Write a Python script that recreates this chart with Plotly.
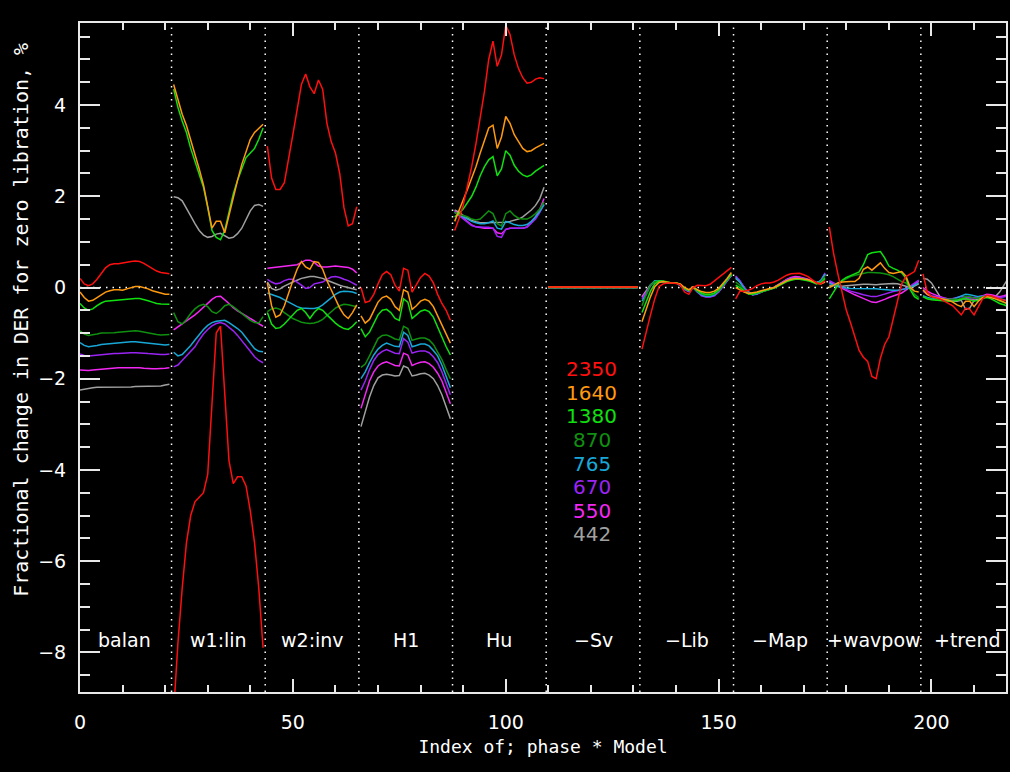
import plotly.graph_objects as go

# Segment names along the index axis (22 points each)
segments = ["balan", "w1:lin", "w2:inv", "H1", "Hu", "−Sv", "−Lib", "−Map", "+wavpow", "+trend"]
seg_len = 22

wavelengths = ["2350", "1640", "1380", "870", "765", "670", "550", "442"]
colors = ["#ff1010", "#ff9a10", "#10e010", "#109010", "#18a8d8", "#9a24f4", "#f428f4", "#a0a0a0"]

y_2350 = [
    0.2, 0.08, 0.04, 0.08, 0.18, 0.32, 0.43, 0.5, 0.52, 0.52, 0.54, 0.55, 0.57, 0.58, 0.57, 0.53, 0.47, 0.41, 0.36, 0.33, 0.31, 0.30,
    -9.3, -7.8, -6.6, -5.6, -5.0, -4.7, -4.6, -4.5, -4.1, -2.6, -1.0, -0.85, -2.3, -3.8, -4.3, -4.15, -4.15, -4.35, -4.9, -5.6, -6.6, -7.9,
    3.1, 2.4, 2.15, 2.15, 2.3, 2.8, 3.35, 3.9, 4.45, 4.68, 4.4, 4.25, 4.55, 4.35, 3.6, 3.2, 2.95, 2.5, 1.75, 1.35, 1.4, 1.77,
    0.0, -0.33, -0.3, -0.15, 0.08, 0.28, 0.35, 0.28, 0.05, -0.08, 0.42, 0.38, -0.1, 0.05, 0.22, 0.31, 0.25, 0.1, -0.15, -0.35, -0.5, -0.72,
    1.25, 1.5, 1.8, 2.2, 2.65, 3.15, 3.7, 4.3, 5.0, 5.4, 4.85, 5.1, 5.75, 5.55, 5.1, 4.8, 4.6, 4.48, 4.5, 4.57, 4.6, 4.58,
    0.01, 0.01, 0.01, 0.01, 0.01, 0.01, 0.01, 0.01, 0.01, 0.01, 0.01, 0.01, 0.01, 0.01, 0.01, 0.01, 0.01, 0.01, 0.01, 0.01, 0.01, 0.01,
    -1.35, -0.95, -0.6, -0.25, 0.02, 0.08, 0.1, 0.1, 0.09, 0.06, -0.1, -0.15, 0.0, 0.05, 0.04, 0.04, 0.07, 0.14, 0.22, 0.3, 0.37, 0.44,
    -0.25, -0.08, -0.08, -0.06, -0.02, 0.04, 0.08, 0.1, 0.1, 0.12, 0.16, 0.22, 0.27, 0.3, 0.31, 0.31, 0.28, 0.24, 0.17, 0.1, 0.08, 0.15,
    1.33, 0.75, 0.3, -0.1, -0.5, -0.78, -1.08, -1.38, -1.53, -1.62, -1.95, -2.0, -1.55, -1.25, -1.08, -0.68, -0.28, 0.08, 0.24, 0.3, 0.35, 0.6,
    0.3, -0.1, -0.2, -0.22, -0.25, -0.3, -0.35, -0.4, -0.5, -0.6, -0.45, -0.48, -0.6, -0.42, -0.25, -0.17, -0.18, -0.22, -0.25, -0.28, -0.31, -0.33,
]

y_1640 = [
    -0.1, -0.22, -0.3, -0.28, -0.22, -0.15, -0.1, -0.07, -0.05, -0.05, -0.06, -0.03, 0.0, 0.02, 0.02, 0.0, -0.03, -0.07, -0.1, -0.13, -0.15, -0.15,
    4.45, 4.1, 3.8, 3.55, 3.25, 2.9, 2.6, 2.25, 1.8, 1.3, 1.45, 1.45, 1.2, 1.6, 2.0, 2.35, 2.7, 3.0, 3.25, 3.4, 3.5, 3.58,
    0.1, -0.4, -0.65, -0.6, -0.4, -0.1, 0.15, 0.4, 0.57, 0.45, 0.4, 0.57, 0.55, 0.4, 0.15, -0.05, -0.25, -0.45, -0.6, -0.68, -0.55, -0.38,
    -0.62, -0.78, -0.7, -0.5, -0.32, -0.22, -0.19, -0.26, -0.42, -0.5, -0.05, -0.1, -0.48, -0.4, -0.3, -0.26, -0.3, -0.42, -0.62, -0.85, -1.05, -1.22,
    1.45, 1.7, 1.92, 2.15, 2.4, 2.65, 2.95, 3.25, 3.5, 3.56, 3.05, 3.3, 3.75, 3.6, 3.35, 3.2, 3.05, 2.98, 3.0, 3.06, 3.11, 3.16,
    0.01, 0.01, 0.01, 0.01, 0.01, 0.01, 0.01, 0.01, 0.01, 0.01, 0.01, 0.01, 0.01, 0.01, 0.01, 0.01, 0.01, 0.01, 0.01, 0.01, 0.01, 0.01,
    -0.75, -0.45, -0.2, 0.02, 0.11, 0.13, 0.11, 0.1, 0.1, 0.08, 0.0, -0.05, 0.02, -0.05, -0.09, -0.11, -0.11, -0.08, -0.02, 0.08, 0.2, 0.33,
    0.0, -0.05, -0.1, -0.13, -0.12, -0.1, -0.07, -0.05, -0.03, 0.0, 0.05, 0.1, 0.15, 0.18, 0.2, 0.2, 0.19, 0.17, 0.14, 0.1, 0.08, 0.12,
    0.0, 0.05, 0.1, 0.12, 0.13, 0.13, 0.13, 0.2, 0.4, 0.45, 0.38, 0.45, 0.54, 0.42, 0.33, 0.31, 0.33, 0.35, 0.25, 0.0, -0.08, -0.1,
    -0.05, -0.15, -0.2, -0.22, -0.24, -0.26, -0.28, -0.32, -0.38, -0.42, -0.3, -0.3, -0.42, -0.3, -0.22, -0.2, -0.22, -0.25, -0.28, -0.32, -0.36, -0.38,
]

y_1380 = [
    -0.35, -0.45, -0.5, -0.47, -0.4, -0.34, -0.3, -0.29, -0.28, -0.28, -0.27, -0.26, -0.25, -0.24, -0.24, -0.26, -0.29, -0.32, -0.35, -0.36, -0.37, -0.37,
    4.35, 3.95, 3.65, 3.4, 3.05, 2.75, 2.5, 2.2, 1.75, 1.25, 1.1, 1.05, 1.25, 1.65, 2.05, 2.35, 2.6, 2.85, 2.95, 3.05, 3.25, 3.5,
    -0.55, -0.8, -0.9, -0.88, -0.8, -0.7, -0.6, -0.5, -0.46, -0.55, -0.68, -0.55, -0.46, -0.5, -0.6, -0.7, -0.78, -0.85, -0.9, -0.92, -0.85, -0.75,
    -0.9, -1.08, -0.98, -0.78, -0.6, -0.5, -0.48, -0.55, -0.68, -0.72, -0.25, -0.32, -0.68, -0.6, -0.52, -0.49, -0.53, -0.65, -0.88, -1.1, -1.3, -1.48,
    1.55, 1.62, 1.72, 1.85, 2.0, 2.2, 2.45, 2.65, 2.8, 2.87, 2.45, 2.6, 3.0, 2.9, 2.68, 2.55, 2.47, 2.43, 2.47, 2.55, 2.62, 2.68,
    0.0, 0.0, 0.0, 0.0, 0.0, 0.0, 0.0, 0.0, 0.0, 0.0, 0.0, 0.0, 0.0, 0.0, 0.0, 0.0, 0.0, 0.0, 0.0, 0.0, 0.0, 0.0,
    -0.55, -0.3, -0.08, 0.08, 0.14, 0.14, 0.12, 0.1, 0.1, 0.07, -0.02, -0.06, 0.0, -0.07, -0.12, -0.15, -0.15, -0.12, -0.05, 0.06, 0.18, 0.3,
    0.05, 0.0, -0.08, -0.14, -0.14, -0.12, -0.09, -0.06, -0.04, -0.01, 0.03, 0.08, 0.13, 0.16, 0.18, 0.18, 0.17, 0.15, 0.12, 0.08, 0.1, 0.2,
    -0.25, -0.1, 0.05, 0.16, 0.22, 0.26, 0.3, 0.34, 0.5, 0.72, 0.76, 0.77, 0.79, 0.65, 0.47, 0.42, 0.38, 0.32, 0.2, -0.05, -0.2, -0.26,
    -0.2, -0.25, -0.27, -0.28, -0.28, -0.29, -0.3, -0.3, -0.28, -0.25, -0.24, -0.27, -0.3, -0.28, -0.24, -0.22, -0.25, -0.3, -0.35, -0.38, -0.42, -0.45,
]

y_870 = [
    -0.95, -1.02, -1.05, -1.04, -1.02, -1.0, -1.0, -1.0, -0.99, -0.98, -0.97, -0.96, -0.95, -0.95, -0.96, -0.98, -1.0, -1.02, -1.03, -1.04, -1.04, -1.03,
    -0.55, -0.75, -0.8, -0.7, -0.57, -0.47, -0.4, -0.37, -0.42, -0.53, -0.57, -0.5, -0.4, -0.37, -0.42, -0.5, -0.58, -0.65, -0.72, -0.77, -0.78, -0.64,
    -0.53, -0.47, -0.45, -0.48, -0.55, -0.62, -0.68, -0.72, -0.76, -0.78, -0.79, -0.78, -0.75, -0.7, -0.62, -0.53, -0.45, -0.4, -0.37, -0.38, -0.4, -0.42,
    -1.75, -1.68, -1.5, -1.3, -1.12, -1.05, -1.04, -1.08, -1.13, -1.15, -0.85, -0.9, -1.16, -1.13, -1.11, -1.11, -1.15, -1.25, -1.4, -1.58, -1.8, -2.0,
    1.65, 1.6, 1.58, 1.55, 1.5, 1.48, 1.5, 1.58, 1.68, 1.62, 1.4, 1.35, 1.62, 1.68, 1.58, 1.52, 1.5, 1.5, 1.55, 1.62, 1.72, 1.88,
    0.0, 0.0, 0.0, 0.0, 0.0, 0.0, 0.0, 0.0, 0.0, 0.0, 0.0, 0.0, 0.0, 0.0, 0.0, 0.0, 0.0, 0.0, 0.0, 0.0, 0.0, 0.0,
    -0.4, -0.15, 0.05, 0.13, 0.14, 0.12, 0.11, 0.1, 0.1, 0.06, -0.02, -0.07, 0.0, -0.08, -0.14, -0.17, -0.17, -0.14, -0.07, 0.05, 0.16, 0.28,
    0.12, 0.05, -0.05, -0.14, -0.15, -0.13, -0.1, -0.07, -0.04, -0.01, 0.04, 0.09, 0.14, 0.17, 0.19, 0.19, 0.18, 0.15, 0.12, 0.09, 0.12, 0.25,
    0.0, 0.05, 0.1, 0.15, 0.2, 0.24, 0.27, 0.29, 0.31, 0.33, 0.33, 0.33, 0.32, 0.3, 0.28, 0.24, 0.18, 0.13, 0.1, 0.0, -0.15, -0.22,
    -0.2, -0.24, -0.26, -0.27, -0.27, -0.26, -0.26, -0.27, -0.26, -0.24, -0.2, -0.2, -0.24, -0.23, -0.2, -0.18, -0.2, -0.25, -0.3, -0.33, -0.37, -0.4,
]

y_765 = [
    -1.21, -1.27, -1.3, -1.29, -1.27, -1.25, -1.24, -1.23, -1.22, -1.22, -1.21, -1.2, -1.19, -1.19, -1.2, -1.21, -1.23, -1.24, -1.25, -1.26, -1.26, -1.25,
    -1.42, -1.5, -1.47, -1.38, -1.27, -1.15, -1.03, -0.92, -0.83, -0.77, -0.74, -0.73, -0.72, -0.77, -0.83, -0.9, -0.98, -1.1, -1.23, -1.34, -1.4, -1.41,
    -0.12, -0.15, -0.18, -0.22, -0.27, -0.32, -0.37, -0.42, -0.45, -0.46, -0.46, -0.46, -0.44, -0.38, -0.3, -0.22, -0.15, -0.1, -0.08, -0.09, -0.1, -0.13,
    -2.0, -1.85, -1.65, -1.48, -1.35, -1.27, -1.22, -1.25, -1.29, -1.3, -0.98, -1.05, -1.3, -1.27, -1.24, -1.24, -1.28, -1.38, -1.5, -1.7, -1.95, -2.2,
    1.65, 1.6, 1.55, 1.5, 1.45, 1.42, 1.4, 1.4, 1.42, 1.46, 1.3, 1.28, 1.45, 1.42, 1.38, 1.36, 1.36, 1.38, 1.45, 1.55, 1.67, 1.82,
    0.0, 0.0, 0.0, 0.0, 0.0, 0.0, 0.0, 0.0, 0.0, 0.0, 0.0, 0.0, 0.0, 0.0, 0.0, 0.0, 0.0, 0.0, 0.0, 0.0, 0.0, 0.0,
    -0.3, -0.15, 0.05, 0.15, 0.15, 0.12, 0.1, 0.1, 0.1, 0.05, -0.03, -0.08, 0.0, -0.09, -0.16, -0.19, -0.19, -0.16, -0.08, 0.04, 0.15, 0.27,
    0.22, 0.12, -0.02, -0.13, -0.16, -0.14, -0.1, -0.07, -0.04, -0.01, 0.05, 0.1, 0.15, 0.19, 0.2, 0.2, 0.19, 0.16, 0.13, 0.1, 0.15, 0.3,
    0.1, 0.05, 0.02, 0.0, -0.01, -0.02, -0.02, -0.02, -0.02, -0.02, -0.03, -0.03, -0.04, -0.05, -0.05, -0.06, -0.06, -0.05, -0.03, 0.0, 0.05, 0.1,
    -0.18, -0.22, -0.24, -0.25, -0.26, -0.27, -0.28, -0.26, -0.22, -0.18, -0.15, -0.16, -0.18, -0.2, -0.2, -0.19, -0.2, -0.22, -0.25, -0.27, -0.3, -0.32,
]

y_670 = [
    -1.46, -1.49, -1.5, -1.49, -1.48, -1.47, -1.46, -1.46, -1.45, -1.45, -1.44, -1.44, -1.43, -1.43, -1.43, -1.44, -1.45, -1.46, -1.47, -1.47, -1.47, -1.46,
    -1.74, -1.7, -1.6, -1.5, -1.42, -1.3, -1.15, -1.02, -0.92, -0.84, -0.79, -0.77, -0.8, -0.87, -0.95, -1.05, -1.16, -1.28, -1.4, -1.52, -1.6, -1.65,
    0.18, 0.12, 0.08, 0.1, 0.15, 0.18, 0.18, 0.12, 0.05, -0.02, 0.0, 0.08, 0.1, 0.12, 0.18, 0.23, 0.24, 0.22, 0.18, 0.15, 0.1, 0.05,
    -2.25, -2.05, -1.8, -1.6, -1.47, -1.4, -1.36, -1.4, -1.44, -1.45, -1.12, -1.2, -1.44, -1.41, -1.39, -1.39, -1.43, -1.52, -1.65, -1.85, -2.1, -2.35,
    1.65, 1.58, 1.5, 1.43, 1.36, 1.33, 1.32, 1.32, 1.32, 1.3, 1.12, 1.1, 1.28, 1.3, 1.3, 1.3, 1.3, 1.32, 1.4, 1.5, 1.65, 1.82,
    0.0, 0.0, 0.0, 0.0, 0.0, 0.0, 0.0, 0.0, 0.0, 0.0, 0.0, 0.0, 0.0, 0.0, 0.0, 0.0, 0.0, 0.0, 0.0, 0.0, 0.0, 0.0,
    -0.25, -0.12, 0.04, 0.14, 0.15, 0.12, 0.1, 0.1, 0.1, 0.05, -0.04, -0.09, 0.0, -0.1, -0.18, -0.21, -0.21, -0.18, -0.1, 0.02, 0.13, 0.26,
    0.25, 0.15, 0.0, -0.12, -0.16, -0.15, -0.1, -0.07, -0.04, 0.0, 0.05, 0.11, 0.16, 0.2, 0.21, 0.21, 0.2, 0.17, 0.13, 0.1, 0.15, 0.32,
    0.15, 0.1, 0.05, 0.0, -0.04, -0.08, -0.1, -0.13, -0.16, -0.18, -0.2, -0.2, -0.17, -0.14, -0.11, -0.09, -0.07, -0.05, -0.02, 0.03, 0.1, 0.16,
    -0.08, -0.15, -0.18, -0.2, -0.22, -0.24, -0.25, -0.24, -0.22, -0.2, -0.22, -0.22, -0.22, -0.2, -0.18, -0.18, -0.2, -0.22, -0.22, -0.2, -0.18, -0.17,
]

y_550 = [
    -1.81, -1.82, -1.82, -1.81, -1.8, -1.79, -1.78, -1.77, -1.77, -1.76, -1.76, -1.76, -1.75, -1.75, -1.76, -1.77, -1.78, -1.78, -1.78, -1.78, -1.77, -1.76,
    -0.93, -0.87, -0.8, -0.73, -0.67, -0.6, -0.52, -0.43, -0.34, -0.26, -0.2, -0.19, -0.27, -0.36, -0.44, -0.51, -0.56, -0.62, -0.68, -0.74, -0.8, -0.85,
    0.42, 0.43, 0.45, 0.46, 0.47, 0.48, 0.48, 0.5, 0.55, 0.6, 0.6, 0.55, 0.47, 0.45, 0.45, 0.46, 0.47, 0.46, 0.45, 0.44, 0.4, 0.32,
    -2.65, -2.35, -2.05, -1.85, -1.72, -1.66, -1.63, -1.67, -1.71, -1.72, -1.44, -1.48, -1.71, -1.67, -1.64, -1.63, -1.67, -1.75, -1.88, -2.05, -2.3, -2.55,
    1.68, 1.6, 1.52, 1.44, 1.37, 1.33, 1.31, 1.3, 1.3, 1.3, 1.2, 1.18, 1.27, 1.3, 1.3, 1.3, 1.3, 1.33, 1.42, 1.55, 1.72, 1.95,
    0.0, 0.0, 0.0, 0.0, 0.0, 0.0, 0.0, 0.0, 0.0, 0.0, 0.0, 0.0, 0.0, 0.0, 0.0, 0.0, 0.0, 0.0, 0.0, 0.0, 0.0, 0.0,
    -0.22, -0.1, 0.05, 0.14, 0.15, 0.12, 0.1, 0.1, 0.1, 0.05, -0.04, -0.09, 0.0, -0.1, -0.17, -0.2, -0.2, -0.17, -0.1, 0.02, 0.14, 0.27,
    0.24, 0.14, 0.0, -0.12, -0.16, -0.14, -0.1, -0.07, -0.04, 0.0, 0.06, 0.12, 0.18, 0.22, 0.24, 0.23, 0.21, 0.18, 0.14, 0.1, 0.14, 0.3,
    0.12, 0.08, 0.03, -0.02, -0.07, -0.12, -0.16, -0.2, -0.24, -0.28, -0.32, -0.33, -0.3, -0.26, -0.22, -0.19, -0.16, -0.12, -0.06, 0.0, 0.07, 0.14,
    0.0, -0.08, -0.13, -0.17, -0.2, -0.23, -0.26, -0.28, -0.28, -0.25, -0.25, -0.26, -0.26, -0.22, -0.18, -0.15, -0.16, -0.18, -0.2, -0.18, -0.15, -0.13,
]

y_442 = [
    -2.25, -2.23, -2.21, -2.2, -2.19, -2.19, -2.19, -2.19, -2.19, -2.18, -2.18, -2.18, -2.18, -2.17, -2.17, -2.17, -2.17, -2.17, -2.16, -2.16, -2.14, -2.12,
    1.99, 1.97, 1.9, 1.75, 1.57, 1.4, 1.25, 1.15, 1.1, 1.12, 1.17, 1.19, 1.13, 1.08, 1.1, 1.18, 1.3, 1.48, 1.68, 1.8, 1.82, 1.78,
    0.12, -0.02, -0.06, -0.03, 0.03, 0.08, 0.12, 0.16, 0.2, 0.22, 0.24, 0.24, 0.22, 0.2, 0.16, 0.12, 0.08, 0.05, 0.02, 0.0, -0.03, -0.05,
    -3.05, -2.7, -2.4, -2.15, -1.98, -1.92, -1.9, -1.92, -1.94, -1.93, -1.72, -1.76, -1.94, -1.92, -1.89, -1.88, -1.92, -2.0, -2.15, -2.35, -2.6, -2.88,
    1.7, 1.65, 1.58, 1.52, 1.47, 1.44, 1.42, 1.42, 1.42, 1.42, 1.42, 1.42, 1.43, 1.45, 1.47, 1.5, 1.55, 1.62, 1.7, 1.8, 1.95, 2.2,
    0.0, 0.0, 0.0, 0.0, 0.0, 0.0, 0.0, 0.0, 0.0, 0.0, 0.0, 0.0, 0.0, 0.0, 0.0, 0.0, 0.0, 0.0, 0.0, 0.0, 0.0, 0.0,
    -0.2, -0.08, 0.06, 0.13, 0.14, 0.12, 0.1, 0.1, 0.1, 0.05, -0.03, -0.07, 0.0, -0.08, -0.14, -0.17, -0.17, -0.14, -0.08, 0.04, 0.15, 0.27,
    0.2, 0.12, 0.0, -0.1, -0.14, -0.13, -0.09, -0.06, -0.03, 0.0, 0.06, 0.12, 0.17, 0.21, 0.23, 0.22, 0.2, 0.17, 0.14, 0.11, 0.14, 0.28,
    0.05, 0.04, 0.03, 0.03, 0.04, 0.05, 0.06, 0.07, 0.07, 0.07, 0.06, 0.06, 0.07, 0.08, 0.09, 0.09, 0.08, 0.05, 0.02, 0.0, 0.03, 0.08,
    0.2, 0.18, 0.1, -0.05, -0.2, -0.25, -0.28, -0.3, -0.3, -0.28, -0.48, -0.45, -0.28, -0.25, -0.22, -0.2, -0.22, -0.2, -0.1, 0.05, 0.22, 0.35,
]

series = [y_2350, y_1640, y_1380, y_870, y_765, y_670, y_550, y_442]

AX = "#e8e8e8"
FONT = "DejaVu Sans, Verdana, sans-serif"
TITLE_FONT = "DejaVu Sans Mono, monospace"


def broken(values):
    """Split a series into its segments, separated by gaps."""
    xs, ys = [], []
    for s in range(len(values) // seg_len):
        for i in range(seg_len):
            xs.append(s * seg_len + i)
            ys.append(values[s * seg_len + i])
        xs.append(None)
        ys.append(None)
    return xs, ys


fig = go.Figure()

# longest wavelength drawn last so it sits on top
for name, vals, col in reversed(list(zip(wavelengths, series, colors))):
    xs, ys = broken(vals)
    fig.add_trace(go.Scatter(x=xs, y=ys, mode="lines", name=name,
                             line=dict(color=col, width=1.5), showlegend=False,
                             hoverinfo="skip"))

shapes = []
# dotted separators between segments
for s in range(1, len(segments)):
    xb = s * seg_len - 0.5
    shapes.append(dict(type="line", xref="x", yref="paper", x0=xb, x1=xb, y0=0, y1=1,
                       line=dict(color="white", width=1.5, dash="1.5px,5px"), layer="below"))
# dotted zero line
shapes.append(dict(type="line", xref="x", yref="y", x0=0, x1=220, y0=0, y1=0,
                   line=dict(color="white", width=1.5, dash="1.5px,5px"), layer="below"))

annotations = []
for s, lab in enumerate(segments):
    annotations.append(dict(x=s * seg_len + 10.5, y=-7.73, xref="x", yref="y", text=lab,
                            showarrow=False, xanchor="center", yanchor="middle",
                            font=dict(color="white", size=19, family=FONT)))

for k, (name, col) in enumerate(zip(wavelengths, colors)):
    annotations.append(dict(x=120.2, y=-1.79 - 0.518 * k, xref="x", yref="y", text=name,
                            showarrow=False, xanchor="center", yanchor="middle",
                            font=dict(color=col, size=20, family=FONT)))

annotations.append(dict(x=-0.064, y=0.556, xref="paper", yref="paper",
                        text="Fractional change in DER for zero libration, %",
                        textangle=-90, showarrow=False, xanchor="center", yanchor="middle",
                        font=dict(color="white", size=20, family=TITLE_FONT)))

fig.update_layout(
    width=1010, height=772,
    margin=dict(l=80, r=2, t=23, b=80),
    paper_bgcolor="black", plot_bgcolor="black",
    font=dict(family=FONT, color="white", size=18),
    shapes=shapes, annotations=annotations,
    showlegend=False,
)

fig.update_xaxes(
    range=[0, 217.5], showgrid=False, zeroline=False,
    showline=True, linecolor=AX, linewidth=2, mirror="ticks",
    ticks="inside", ticklen=13, tickwidth=2, tickcolor=AX,
    tickvals=[0, 50, 100, 150, 200], ticklabelstandoff=12,
    tickfont=dict(size=19, color="white", family=FONT),
    minor=dict(ticks="inside", ticklen=7, tickwidth=1.5, tickcolor=AX, dtick=10, tick0=0, showgrid=False),
    title=dict(text="Index of; phase * Model", font=dict(size=18, color="white", family=TITLE_FONT), standoff=9),
)

fig.update_yaxes(
    range=[-8.87, 5.8], showgrid=False, zeroline=False,
    showline=True, linecolor=AX, linewidth=2, mirror="ticks",
    ticks="inside", ticklen=20, tickwidth=2, tickcolor=AX,
    tickvals=[-8, -6, -4, -2, 0, 2, 4], ticklabelstandoff=8,
    tickfont=dict(size=19, color="white", family=FONT),
    minor=dict(ticks="inside", ticklen=10, tickwidth=1.5, tickcolor=AX, dtick=0.5, tick0=0, showgrid=False),
)

fig.write_html("out.html")
